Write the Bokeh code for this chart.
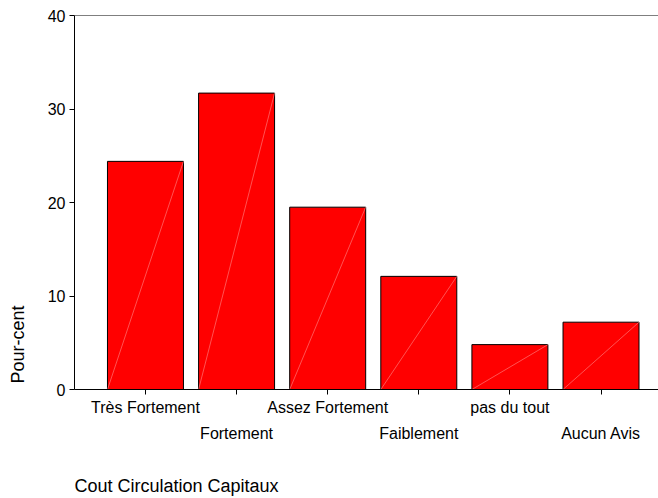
from bokeh.plotting import figure
from bokeh.models import Range1d, LinearAxis, FixedTicker, Span, ColumnDataSource
from bokeh.embed import file_html
from bokeh.resources import INLINE

categories = ["Très Fortement", "Fortement", "Assez Fortement", "Faiblement", "pas du tout", "Aucun Avis"]
percents = [24.4, 31.7, 19.5, 12.1, 4.8, 7.2]
y_ticks = [0, 10, 20, 30, 40]
x_title = "Cout Circulation Capitaux"
y_title = "Pour-cent"

FONT = "Liberation Sans"
NBSP = "\u00a0"
n = len(categories)
pos = list(range(1, n + 1))
bar_w = 0.834
src = ColumnDataSource(dict(
    x=pos, top=percents,
    left=[q - bar_w / 2 for q in pos], right=[q + bar_w / 2 for q in pos],
    zero=[0] * n,
))

X0, X1 = 0.221, 6.631
p = figure(frame_width=584, frame_height=374,
           x_range=Range1d(X0, X1), y_range=Range1d(0, 40),
           output_backend="svg", toolbar_location=None,
           min_border_left=74, min_border_right=0, min_border_top=15, min_border_bottom=0)
p.xgrid.visible = False
p.ygrid.visible = False
p.outline_line_color = None
p.background_fill_color = "white"

p.vbar(x="x", top="top", width=bar_w, source=src, fill_color="#ff0000",
       line_color="black", line_width=1)
p.segment(x0="left", y0="zero", x1="right", y1="top", source=src,
          line_color="#ff8a8a", line_width=0.6)

p.add_layout(Span(location=40, dimension="width", line_color="black", line_width=1))

# y axis (title padded so that, centred on the axis start, it sits low like the original)
ya = p.yaxis[0]
ya.ticker = FixedTicker(ticks=y_ticks)
ya.major_tick_out = 5
ya.major_tick_in = 0
ya.minor_tick_line_color = None
ya.major_label_standoff = 4
ya.major_label_text_font = FONT
ya.major_label_text_font_size = "16px"
ya.major_label_text_color = "black"
ya.axis_line_color = "black"
ya.axis_label = NBSP * 18 + y_title
ya.axis_label_align = "start"
ya.axis_label_standoff = 17
ya.axis_label_text_font = FONT
ya.axis_label_text_font_size = "18px"
ya.axis_label_text_font_style = "normal"
ya.axis_label_text_color = "black"

# x axis row 1
xa = p.xaxis[0]
xa.ticker = FixedTicker(ticks=pos)
xa.major_label_overrides = {q: (categories[i] if i % 2 == 0 else "") for i, q in enumerate(pos)}
xa.major_tick_out = 5
xa.major_tick_in = 0
xa.minor_tick_line_color = None
xa.major_label_standoff = 4
xa.major_label_text_font = FONT
xa.major_label_text_font_size = "16px"
xa.major_label_text_color = "black"

# x axis row 2 (staggered labels) carrying the left-aligned x title
xb = LinearAxis(ticker=FixedTicker(ticks=pos),
                major_label_overrides={q: (categories[i] if i % 2 == 1 else "") for i, q in enumerate(pos)},
                axis_line_color=None, major_tick_line_color=None, minor_tick_line_color=None,
                major_tick_out=0, major_tick_in=0, major_label_standoff=6,
                major_label_text_font=FONT, major_label_text_font_size="16px",
                major_label_text_color="black",
                axis_label=x_title + NBSP * 76, axis_label_align="center",
                axis_label_standoff=31,
                axis_label_text_font=FONT, axis_label_text_font_size="18px",
                axis_label_text_font_style="normal", axis_label_text_color="black")
p.add_layout(xb, "below")

open("out.html", "w").write(file_html(p, INLINE))
